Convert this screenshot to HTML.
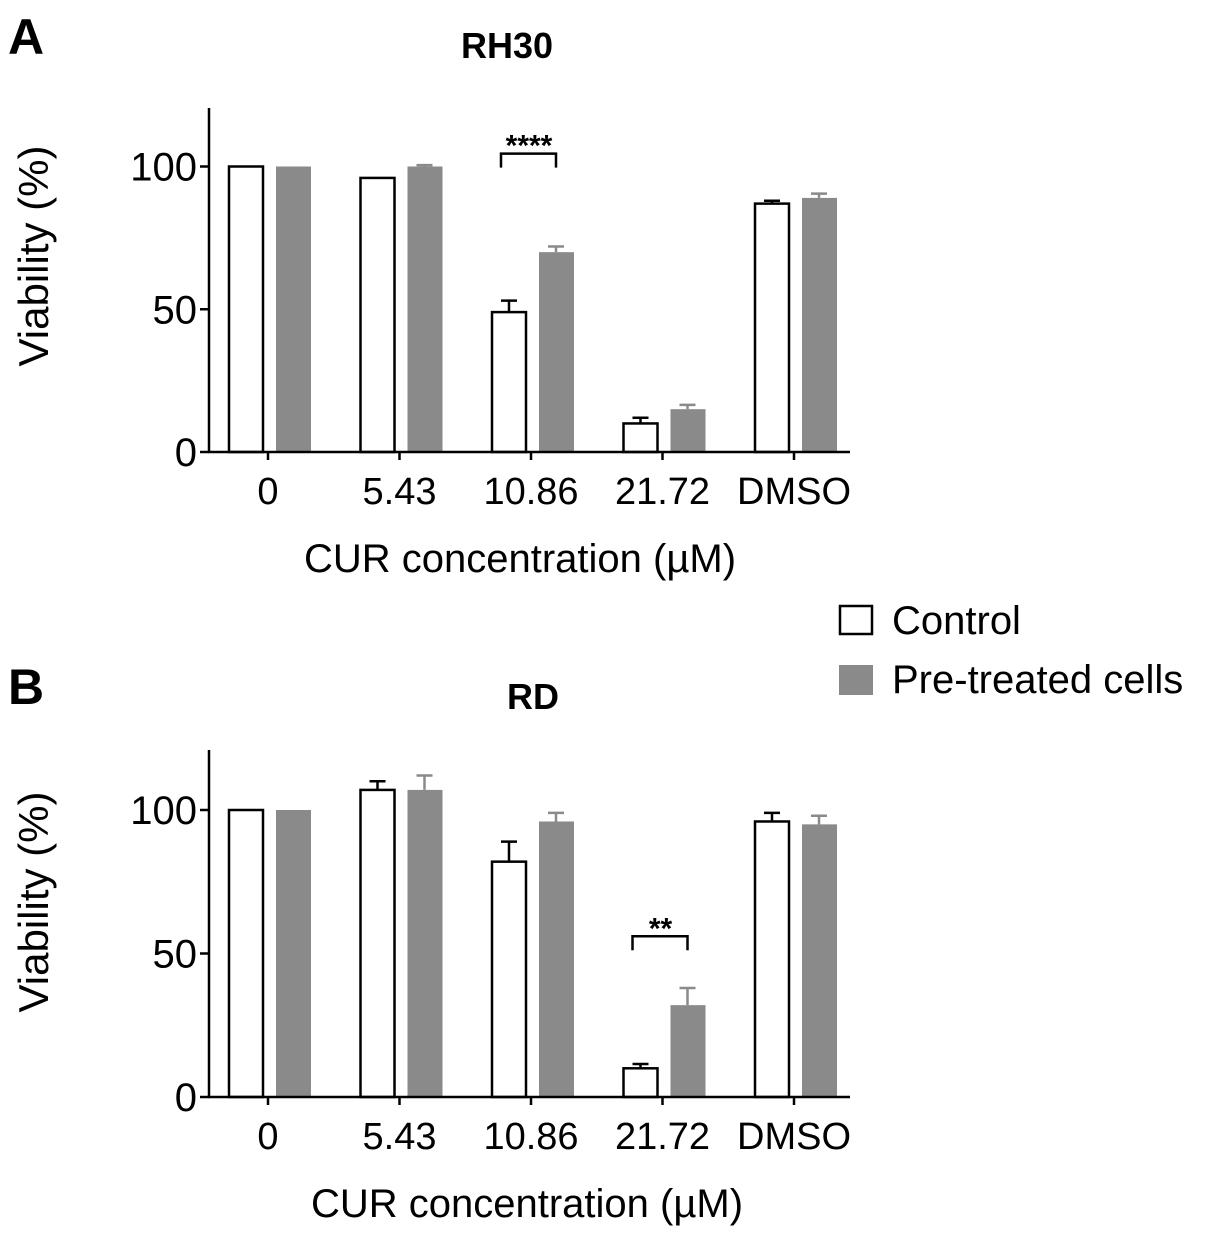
<!DOCTYPE html>
<html><head><meta charset="utf-8">
<style>
body{margin:0;background:#fff;}
svg{display:block;font-family:"Liberation Sans",Arial,sans-serif;}
</style></head>
<body>
<svg id="fig" width="1205" height="1238" viewBox="0 0 1205 1238"></svg>
<script>
const categories = ["0","5.43","10.86","21.72","DMSO"];
const yTicks = [0,50,100];
const rh30Control = [100,96,49,10,87];
const rh30ControlErr = [0,0,4,2,1];
const rh30Pre = [100,100,70,15,89];
const rh30PreErr = [0,0.5,2,1.5,1.5];
const rdControl = [100,107,82,10,96];
const rdControlErr = [0,3,7,1.5,3];
const rdPre = [100,107,96,32,95];
const rdPreErr = [0,5,3,6,3];

const NS="http://www.w3.org/2000/svg";
const svg=document.getElementById('fig');
function mk(tag,attrs,parent){const e=document.createElementNS(NS,tag);for(const k in attrs)e.setAttribute(k,attrs[k]);(parent||svg).appendChild(e);return e;}
function txt(s,attrs,parent){const e=mk('text',attrs,parent);e.textContent=s;return e;}

function panel(opt){
  const g=mk('g',{});
  
  
  const x0=209, y0=opt.y0, yTop=opt.yTop, ppu=opt.ppu;
  const xStep=131.5, xFirst=268;
  const y=v=>y0-v*ppu;
  const xc=i=>xFirst+i*xStep;
  for(let i=0;i<categories.length;i++){
    const c=xc(i);
    const cv=opt.ctrl[i], ce=opt.ctrlErr[i], pv=opt.pre[i], pe=opt.preErr[i];
    if(ce>0){
      const l=mk('path',{d:`M${c-22} ${y(cv)} V${y(cv+ce)} M${c-30} ${y(cv+ce)} H${c-14}`,stroke:'#000','stroke-width':2.5,fill:'none'},g);
      
      
    }
    const b=mk('rect',{x:c-39,y:y(cv),width:34,height:y0-y(cv),fill:'#fff',stroke:'#000','stroke-width':2.5},g);
    
    
    if(pe>0){
      const l=mk('path',{d:`M${c+25} ${y(pv)} V${y(pv+pe)} M${c+17} ${y(pv+pe)} H${c+33}`,stroke:'#8a8a8a','stroke-width':2.5,fill:'none'},g);
      
      
    }
    const p=mk('rect',{x:c+8,y:y(pv),width:35,height:y0-y(pv),fill:'#8a8a8a'},g);
    
    
    const t=mk('line',{x1:c,x2:c,y1:y0,y2:y0+8,stroke:'#000','stroke-width':2.5},g);
    
    
    const tl=txt(categories[i],{x:c,y:y0+52,'font-size':38,'text-anchor':'middle'},g);
    
    
  }
  const ax=mk('path',{d:`M${x0} ${yTop} V${y0} H${850}`,stroke:'#000','stroke-width':2.5,fill:'none'},g);
  
  
  yTicks.forEach(v=>{
    const t=mk('line',{x1:x0-9,x2:x0,y1:y(v),y2:y(v),stroke:'#000','stroke-width':2.5},g);
    
    
    const tl=txt(String(v),{x:x0-12,y:y(v)+14,'font-size':40,'text-anchor':'end'},g);
    
    
  });
  const si=opt.sigIdx, c=xc(si);
  const top=y(opt.sigY);
  const br=mk('path',{d:`M${c-30} ${top+14} V${top} H${c+25} V${top+14}`,stroke:'#000','stroke-width':2.5,fill:'none'},g);
  
  
  const st=txt(opt.sig,{x:c-2,y:top+2,'font-size':30,'font-weight':'bold','text-anchor':'middle'},g);
  
  
  const yt=txt('Viability (%)',{x:0,y:0,'font-size':42,'text-anchor':'middle',transform:`translate(48 ${opt.ytCenter}) rotate(-90)`},g);
  
  
  const xt=txt('CUR concentration (µM)',{x:opt.xtX,y:y0+120,'font-size':40,'text-anchor':'middle'},g);
  
  
  const ti=txt(opt.title,{x:opt.titleX,y:opt.titleY,'font-size':36,'font-weight':'bold','text-anchor':'middle'},g);
  
  
  const lb=txt(opt.letter,{x:8,y:opt.letterY,'font-size':50,'font-weight':'bold'},g);
  
  
}
panel({name:'panel-a-rh30',y0:452,yTop:108,ppu:2.855,ctrl:rh30Control,ctrlErr:rh30ControlErr,pre:rh30Pre,preErr:rh30PreErr,sigIdx:2,sigY:104.5,sig:'****',title:'RH30',titleX:507,titleY:58,letter:'A',letterY:54,xtX:520,ytCenter:256});
panel({name:'panel-b-rd',y0:1097,yTop:750,ppu:2.87,ctrl:rdControl,ctrlErr:rdControlErr,pre:rdPre,preErr:rdPreErr,sigIdx:3,sigY:56,sig:'**',title:'RD',titleX:533,titleY:709,letter:'B',letterY:704,xtX:527,ytCenter:902});

const lg=mk('g',{});


const l1=mk('rect',{x:840,y:606,width:32,height:28,fill:'#fff',stroke:'#000','stroke-width':2.5},lg);


const t1=txt('Control',{x:892,y:634,'font-size':40},lg);


const l2=mk('rect',{x:839,y:665,width:34,height:30,fill:'#8a8a8a'},lg);


const t2=txt('Pre-treated cells',{x:892,y:693,'font-size':40},lg);


</script>
</body></html>
